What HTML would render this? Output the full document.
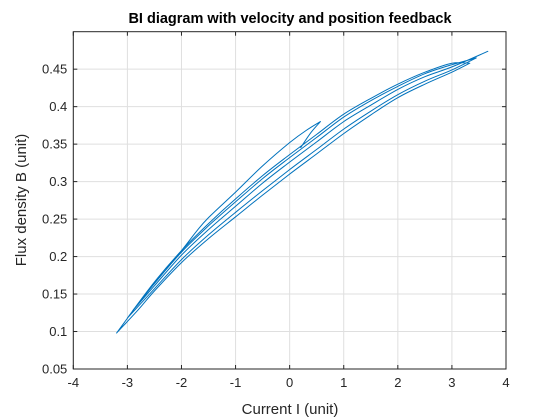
<!DOCTYPE html>
<html><head><meta charset="utf-8"><style>
body{margin:0;background:#fff;}
svg{display:block;font-family:"Liberation Sans",Arial,sans-serif;}
</style></head><body>
<svg id="chart" width="560" height="420" viewBox="0 0 560 420">
<rect width="560" height="420" fill="#fff"/>
<g id="grid"></g>
<g id="axes"></g>
<g id="plot"></g>
<text x="290" y="23" text-anchor="middle" font-size="14.5" font-weight="bold" fill="#000">BI diagram with velocity and position feedback</text>
<text x="290" y="414" text-anchor="middle" font-size="15" fill="#262626">Current I (unit)</text>
<text transform="translate(26,200) rotate(-90)" text-anchor="middle" font-size="15" fill="#262626">Flux density B (unit)</text>
</svg>
<script>
const xTicks=[-4,-3,-2,-1,0,1,2,3,4];
const yTicks=[0.05,0.1,0.15,0.2,0.25,0.3,0.35,0.4,0.45];
const yTickLabels=["0.05","0.1","0.15","0.2","0.25","0.3","0.35","0.4","0.45"];
const currentI=[0.2,0.4,0.57,0.3,0,-0.5,-1,-1.5,-1.73,-2,-2.5,-3.2,
-2.8,-2.5,-2,-1.5,-1,-0.5,0,0.5,1,1.5,2,2.5,3,3.33,
3,2.5,2,1.5,1,0.5,0,-0.5,-1,-1.5,-2,-2.5,-3.0,
-2.5,-2,-1.5,-1,-0.5,0,0.5,1,1.5,2,2.5,3,3.45,
3,2.5,2,1.5,1,0.5,0,-0.5,-1,-1.5,-2,-2.5,-2.9,
-2.5,-2,-1.5,-1,-0.5,0,0.5,1,1.5,2,2.5,3,3.67];
const fluxB=[0.345,0.366,0.38,0.368,0.352,0.321,0.286,0.252,0.233,0.208,0.166,0.098,
0.129,0.154,0.192,0.224,0.253,0.282,0.31,0.337,0.364,0.389,0.412,0.43,0.446,0.458,
0.458,0.446,0.43,0.411,0.39,0.363,0.336,0.308,0.277,0.244,0.208,0.166,0.118,
0.157,0.196,0.229,0.259,0.288,0.316,0.343,0.37,0.394,0.416,0.434,0.449,0.465,
0.456,0.444,0.427,0.408,0.386,0.359,0.332,0.304,0.273,0.241,0.206,0.164,0.128,
0.161,0.202,0.236,0.267,0.298,0.326,0.353,0.38,0.402,0.423,0.44,0.453,0.474];
const NS="http://www.w3.org/2000/svg";
const L=73.3,R=506,T=31.7,B=369;
const xMin=-4,xMax=4,yMin=0.05,yMax=0.5;
const sx=v=>L+(v-xMin)/(xMax-xMin)*(R-L);
const sy=v=>B-(v-yMin)/(yMax-yMin)*(B-T);
function mk(tag,attrs,parent){const e=document.createElementNS(NS,tag);for(const k in attrs)e.setAttribute(k,attrs[k]);parent.appendChild(e);return e;}
const grid=document.getElementById('grid'),axes=document.getElementById('axes'),plot=document.getElementById('plot');
xTicks.forEach(t=>{
 const l=mk('line',{x1:sx(t),x2:sx(t),y1:T,y2:B,stroke:'#dfdfdf','stroke-width':1},grid);
 
 
 mk('line',{x1:sx(t),x2:sx(t),y1:B,y2:B-4,stroke:'#262626'},axes);
 mk('line',{x1:sx(t),x2:sx(t),y1:T,y2:T+4,stroke:'#262626'},axes);
 const tx=mk('text',{x:sx(t),y:B+18,'text-anchor':'middle','font-size':13,fill:'#262626'},axes);
 tx.textContent=String(t);
 
 
});
yTicks.forEach((t,i)=>{
 const l=mk('line',{x1:L,x2:R,y1:sy(t),y2:sy(t),stroke:'#dfdfdf','stroke-width':1},grid);
 
 
 mk('line',{x1:L,x2:L+4,y1:sy(t),y2:sy(t),stroke:'#262626'},axes);
 mk('line',{x1:R,x2:R-4,y1:sy(t),y2:sy(t),stroke:'#262626'},axes);
 const tx=mk('text',{x:L-6,y:sy(t)+4.5,'text-anchor':'end','font-size':13,fill:'#262626'},axes);
 tx.textContent=yTickLabels[i];
 
 
});
const box=mk('rect',{x:L,y:T,width:R-L,height:B-T,fill:'none',stroke:'#262626','stroke-width':1},axes);


const P=currentI.map((x,i)=>[sx(x),sy(fluxB[i])]);
let d='M'+P[0][0].toFixed(1)+','+P[0][1].toFixed(1);
for(let i=0;i<P.length-1;i++){
 const p1=P[i],p2=P[i+1];
 let p0=P[i-1]||p1,p3=P[i+2]||p2;
 if(i>0&&(p1[0]-p0[0])*(p2[0]-p1[0])<0)p0=p1;
 if(i+2<P.length&&(p3[0]-p2[0])*(p2[0]-p1[0])<0)p3=p2;
 const c1=[p1[0]+(p2[0]-p0[0])/6,p1[1]+(p2[1]-p0[1])/6];
 const c2=[p2[0]-(p3[0]-p1[0])/6,p2[1]-(p3[1]-p1[1])/6];
 d+=' C'+c1[0].toFixed(1)+','+c1[1].toFixed(1)+' '+c2[0].toFixed(1)+','+c2[1].toFixed(1)+' '+p2[0].toFixed(1)+','+p2[1].toFixed(1);
}
const line=mk('path',{d:d,fill:'none',stroke:'#0072bd','stroke-width':1,'stroke-linejoin':'round'},plot);


</script>
</body></html>
